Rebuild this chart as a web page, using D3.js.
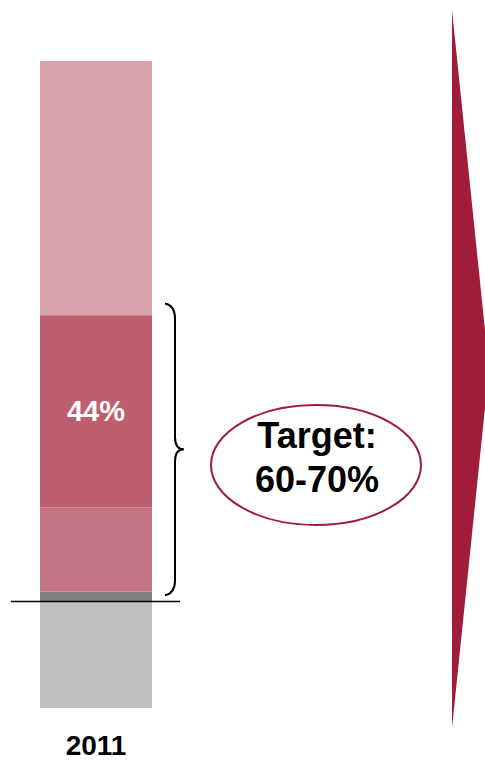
<!DOCTYPE html>
<html>
<head>
<meta charset="utf-8">
<script src="https://cdn.jsdelivr.net/npm/d3@7"></script>
<style>
  body { margin: 0; background: #fff; }
  svg { display: block; }
</style>
</head>
<body>
<div id="chart"></div>
<script>
// data, stacked from the baseline up
const categories = ["2011"];
const segNames = ["other", "lower", "core", "upper"];
const segValues = [2.3, 19.2, 44, 58.2];
const segColors = ["#808080", "#c47480", "#bd5f6f", "#d9a3ae"];
const negValue = -24.4;
const barLabel = "44%";
const labelSeg = 2;
const braceRange = [1.4, 68.2];
const targetLines = ["Target:", "60-70%"];

const width = 485, height = 763;

const svg = d3.select("#chart")
  .append("svg")
  .attr("width", width)
  .attr("height", height);

const x = d3.scaleBand().domain(categories).range([40, 152]).padding(0);
const y = d3.scaleLinear()
  .domain([negValue, d3.sum(segValues)])
  .range([708, 61]);

// stacked segments
let acc = 0;
const stacked = segValues.map((v, i) => {
  const d = { name: segNames[i], y0: acc, y1: acc + v, color: segColors[i] };
  acc += v;
  return d;
});

svg.append("rect")
  .attr("x", x("2011"))
  .attr("width", x.bandwidth())
  .attr("y", y(0))
  .attr("height", y(negValue) - y(0))
  .attr("fill", "#c0c0c0");

svg.selectAll(".seg")
  .data(stacked)
  .enter()
  .append("rect")
  .attr("class", "seg")
  .attr("x", x("2011"))
  .attr("width", x.bandwidth())
  .attr("y", d => y(d.y1))
  .attr("height", d => y(d.y0) - y(d.y1))
  .attr("fill", d => d.color);

// label in the middle segment
const ls = stacked[labelSeg];
svg.append("text")
  .attr("x", x("2011") + x.bandwidth() / 2)
  .attr("y", (y(ls.y0) + y(ls.y1)) / 2 + 10)
  .attr("text-anchor", "middle")
  .attr("font-family", "Liberation Sans, Arial, sans-serif")
  .attr("font-weight", "bold")
  .attr("font-size", 29)
  .attr("fill", "#fff")
  .text(barLabel);

// baseline
svg.append("line")
  .attr("x1", 11).attr("x2", 180)
  .attr("y1", y(0)).attr("y2", y(0))
  .attr("stroke", "#000")
  .attr("stroke-width", 1.5);

// category label
svg.append("text")
  .attr("x", x("2011") + x.bandwidth() / 2)
  .attr("y", 755)
  .attr("text-anchor", "middle")
  .attr("font-family", "Liberation Sans, Arial, sans-serif")
  .attr("font-weight", "bold")
  .attr("font-size", 28)
  .attr("fill", "#000")
  .text(categories[0]);

// curly brace
const bt = y(braceRange[1]), bb = y(braceRange[0]), bm = (bt + bb) / 2;
const bx0 = 165, bx1 = 175, bx2 = 184;
svg.append("path")
  .attr("d",
    `M${bx0},${bt} Q${bx1},${bt + 2} ${bx1},${bt + 15}` +
    ` L${bx1},${bm - 12} Q${bx1},${bm} ${bx2},${bm}` +
    ` Q${bx1},${bm} ${bx1},${bm + 12}` +
    ` L${bx1},${bb - 15} Q${bx1},${bb - 2} ${bx0},${bb}`)
  .attr("fill", "none")
  .attr("stroke", "#000")
  .attr("stroke-width", 2);

// target ellipse
svg.append("ellipse")
  .attr("cx", 316).attr("cy", 465)
  .attr("rx", 105).attr("ry", 60)
  .attr("fill", "#fff")
  .attr("stroke", "#9e1b3a")
  .attr("stroke-width", 2);

svg.selectAll(".target")
  .data(targetLines)
  .enter()
  .append("text")
  .attr("class", "target")
  .attr("x", 317)
  .attr("y", (d, i) => 448 + i * 44)
  .attr("text-anchor", "middle")
  .attr("font-family", "Liberation Sans, Arial, sans-serif")
  .attr("font-weight", "bold")
  .attr("font-size", 36)
  .attr("fill", "#000")
  .text(d => d);

// big arrow on the right
svg.append("path")
  .attr("d", "M452,10 L489,369 L452,728 Z")
  .attr("fill", "#a01c38");
</script>
</body>
</html>
